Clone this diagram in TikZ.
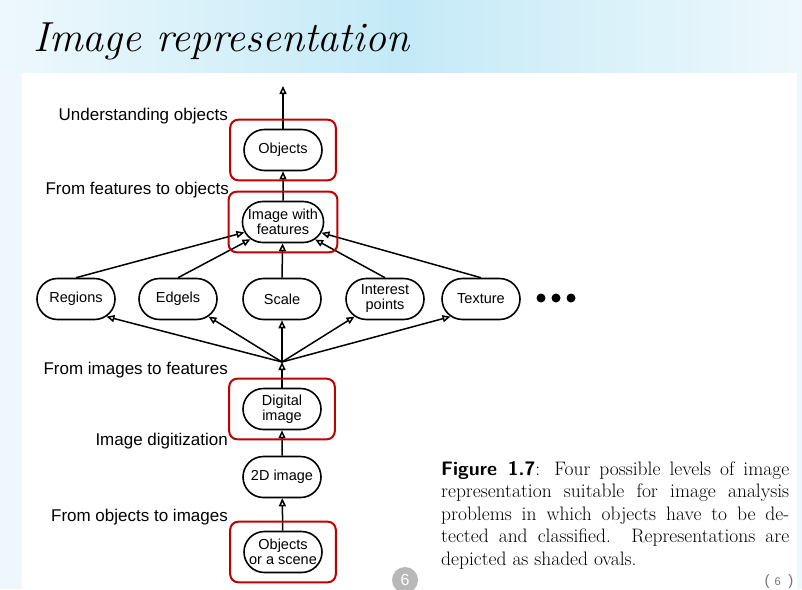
\documentclass[tikz,border=0pt]{standalone}
\usepackage{fontspec}
\newfontfamily\arial{Liberation Sans}
\usetikzlibrary{shapes.misc,arrows.meta,fit}

\definecolor{boxred}{RGB}{192,0,0}
\definecolor{skylight}{RGB}{238,248,252}
\definecolor{skydeep}{RGB}{196,234,247}

\tikzset{
  level/.style={draw, rounded rectangle, line width=1.6pt, minimum width=80pt,
    minimum height=41pt, inner xsep=1pt, inner ysep=2pt, align=center,
    font=\arial\fontsize{14.5}{15}\selectfont},
  arr/.style={line width=1.5pt, -{Triangle[open, length=8pt, width=7pt]}},
  redbox/.style={draw=boxred, line width=2pt, rounded corners=8pt,
    inner xsep=13pt, inner ysep=9pt},
  side/.style={anchor=east, inner sep=0pt, font=\arial\fontsize{17}{18}\selectfont},
}

\begin{document}
\begin{tikzpicture}[x=1pt, y=-1pt]
            \useasboundingbox (0,0) rectangle (802,589);
            \fill[skylight] (0,0) rectangle (802,589);
            \shade[left color=skylight, right color=skylight, middle color=skydeep] (0,0) rectangle (802,73);
            \fill[white] (22,73) rectangle (797,589);

            \node[anchor=base west, inner sep=0pt, font=\itshape\fontsize{42}{44}\selectfont] (title) at (33,51) {Image representation};

            \node[level] (objects) at (283,150) {Objects};
            \node[level] (imgfeat) at (283,222) {Image with\\features};
            \node[level] (regions) at (76,299) {Regions};
            \node[level] (edgels) at (178,299) {Edgels};
            \node[level] (scale) at (282,299) {Scale};
            \node[level] (interest) at (385,299) {Interest\\points};
            \node[level] (texture) at (481,299) {Texture};
            \node[level] (digital) at (282,409) {Digital\\image};
            \node[level] (twod) at (282,477) {2D image};
            \node[level] (scene) at (283,552) {Objects\\or a scene};

            \fill (541,298) circle[radius=4.5];
            \fill (556,298) circle[radius=4.5];
            \fill (571,298) circle[radius=4.5];

            \coordinate (top) at (283,86);
            \coordinate (junc) at (282,362);

            \draw[arr] (scene) -- (twod);
            \draw[arr] (twod) -- (digital);
            \draw[arr] (digital) -- (junc);
            \draw[arr] (junc) -- (regions.-30);
            \draw[arr] (junc) -- (edgels.-30);
            \draw[arr] (junc) -- (scale);
            \draw[arr] (junc) -- (interest.-150);
            \draw[arr] (junc) -- (texture.-150);
            \foreach \n in {regions,edgels,scale,interest,texture}
                \draw[arr] (\n.north) -- (imgfeat);
            \draw[arr] (imgfeat) -- (objects);
            \draw[arr] (objects) -- (top);

            \node[redbox, fit=(objects)] (objbox) {};
            \node[redbox, fit=(imgfeat)] (featbox) {};
            \node[redbox, fit=(digital)] (digbox) {};
            \node[redbox, fit=(scene)] (scenebox) {};

            \node[side] (understand) at (228,116) {Understanding objects};
            \node[side] (featobj) at (229,190) {From features to objects};
            \node[side] (imgfeatlab) at (228,370) {From images to features};
            \node[side] (digitize) at (228,441) {Image digitization};
            \node[side] (objimg) at (228,517) {From objects to images};

            \node[anchor=north west, text width=348pt, align=justify, inner sep=0pt,
                font=\fontsize{19.5}{22.5}\selectfont] (caption) at (441,461)
                {{\sffamily\bfseries Figure 1.7}: Four possible levels of image\linebreak
                representation suitable for image analysis\linebreak
                problems in which objects have to be de-\linebreak
                tected and classified. Representations are\linebreak
                depicted as shaded ovals.};

            \node[circle, fill=black!28, text=white, minimum size=26pt, inner sep=0pt,
                font=\arial\fontsize{16}{16}\selectfont] (pagedot) at (405,580) {6};
            \node[text=black!55, inner sep=0pt, font=\arial\fontsize{15}{15}\selectfont] (pagenum) at (779,582) {(\,\,{\fontsize{11}{11}\selectfont 6}\,\,\,)};
\end{tikzpicture}
\end{document}
